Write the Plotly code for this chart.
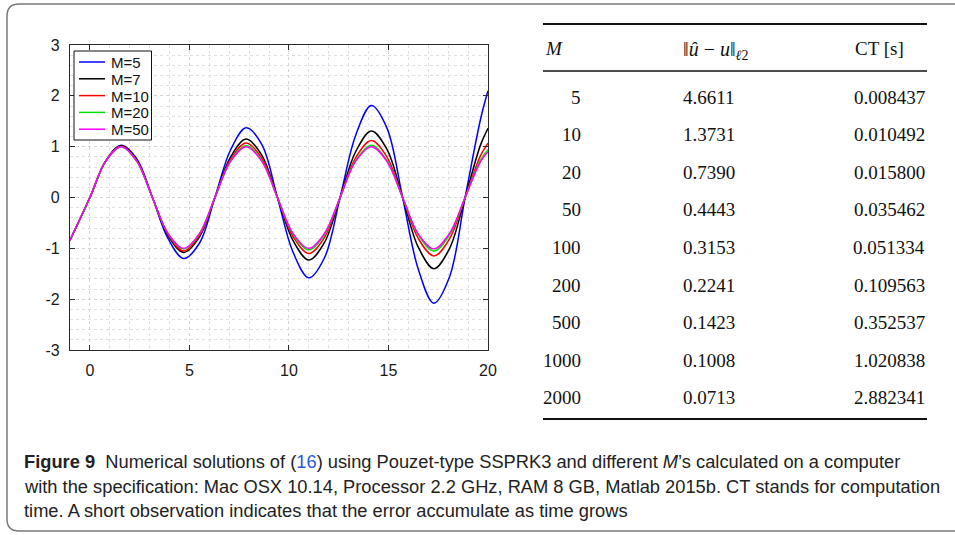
import plotly.graph_objects as go

# ---------------- data ----------------
t = [-1.0, 0.0, 0.79, 1.57, 2.36, 3.14, 3.93, 4.71, 5.50, 6.28, 7.07, 7.85, 8.64, 9.42,
     10.21, 11.00, 11.78, 12.57, 13.35, 14.14, 14.92, 15.71, 16.49, 17.28, 18.06, 18.85,
     19.63, 20.0]

u_M5 = [-0.84, 0.0, 0.72, 1.03, 0.76, 0.0, -0.81, -1.20, -0.90, 0.0, 0.94, 1.37, 1.04, 0.0,
        -1.08, -1.58, -1.19, 0.0, 1.22, 1.81, 1.37, 0.0, -1.40, -2.08, -1.57, 0.0, 1.55, 2.10]
u_M7 = [-0.84, 0.0, 0.71, 1.02, 0.73, 0.0, -0.75, -1.08, -0.78, 0.0, 0.80, 1.15, 0.83, 0.0,
        -0.85, -1.23, -0.89, 0.0, 0.90, 1.31, 0.95, 0.0, -0.97, -1.40, -1.01, 0.0, 1.04, 1.36]
u_M10 = [-0.84, 0.0, 0.71, 1.01, 0.72, 0.0, -0.73, -1.05, -0.75, 0.0, 0.75, 1.07, 0.77, 0.0,
         -0.77, -1.10, -0.79, 0.0, 0.78, 1.12, 0.80, 0.0, -0.80, -1.15, -0.82, 0.0, 0.83, 1.07]
u_M20 = [-0.84, 0.0, 0.71, 1.00, 0.71, 0.0, -0.71, -1.01, -0.72, 0.0, 0.72, 1.02, 0.72, 0.0,
         -0.72, -1.03, -0.73, 0.0, 0.73, 1.03, 0.73, 0.0, -0.73, -1.05, -0.74, 0.0, 0.74, 0.94]
u_M50 = [-0.84, 0.0, 0.71, 1.00, 0.71, 0.0, -0.71, -1.00, -0.71, 0.0, 0.71, 1.00, 0.71, 0.0,
         -0.71, -1.00, -0.71, 0.0, 0.71, 1.00, 0.71, 0.0, -0.71, -1.01, -0.71, 0.0, 0.71, 0.90]

series_names = ["M=5", "M=7", "M=10", "M=20", "M=50"]
series_values = [u_M5, u_M7, u_M10, u_M20, u_M50]
series_colors = ["#0000ff", "#000000", "#ff0000", "#00e000", "#ff00ff"]

x_tickvals = [0, 5, 10, 15, 20]
x_ticktext = ["0", "5", "10", "15", "20"]
y_tickvals = [-3, -2, -1, 0, 1, 2, 3]
y_ticktext = ["-3", "-2", "-1", "0", "1", "2", "3"]

# table
table_M = ["5", "10", "20", "50", "100", "200", "500", "1000", "2000"]
table_err = ["4.6611", "1.3731", "0.7390", "0.4443", "0.3153", "0.2241", "0.1423", "0.1008", "0.0713"]
table_ct = ["0.008437", "0.010492", "0.015800", "0.035462", "0.051334", "0.109563",
            "0.352537", "1.020838", "2.882341"]

caption_lines = [
    "<b>Figure 9</b>  Numerical solutions of (<span style='color:#2a5bd7'>16</span>) using Pouzet-type SSPRK3 and different <i>M</i>’s calculated on a computer",
    "with the specification: Mac OSX 10.14, Processor 2.2 GHz, RAM 8 GB, Matlab 2015b. CT stands for computation",
    "time. A short observation indicates that the error accumulate as time grows",
]

# ---------------- layout geometry (pixels) ----------------
W, H = 955, 535
L, R, T, B = 70, 488, 45, 350  # plot area


def px(x):
    return (x - L) / (R - L)


def py(y):
    return (B - y) / (B - T)


fig = go.Figure()
for name, vals, col in zip(series_names, series_values, series_colors):
    fig.add_trace(go.Scatter(x=t, y=vals, mode="lines", name=name, showlegend=False,
                             line=dict(color=col, width=1.5, shape="spline", smoothing=1.0)))

axis_common = dict(
    showline=True, linecolor="#2a2a2a", linewidth=1.2, mirror="ticks",
    ticks="inside", ticklen=5, tickcolor="#2a2a2a",
    showgrid=True, gridcolor="#d4d4d4", griddash="dot", gridwidth=1,
    zeroline=False,
    tickfont=dict(family="Liberation Sans, Arial, sans-serif", size=16, color="#1a1a1a"),
)

fig.update_xaxes(range=[-1, 20], tickvals=x_tickvals, ticktext=x_ticktext,
                 minor=dict(dtick=1, showgrid=True, gridcolor="#e0e0e0", griddash="dot", ticks=""),
                 ticklabelstandoff=6, **axis_common)
fig.update_yaxes(range=[-3, 3], tickvals=y_tickvals, ticktext=y_ticktext,
                 minor=dict(dtick=0.2, showgrid=True, gridcolor="#e0e0e0", griddash="dot", ticks=""),
                 ticklabelstandoff=6, **axis_common)

shapes = []
annotations = []
sans = "Liberation Sans, Arial, sans-serif"

# legend box (drawn manually to match the compact MATLAB legend)
shapes.append(dict(type="rect", xref="paper", yref="paper",
                   x0=px(74), x1=px(151.5), y0=py(140), y1=py(51),
                   fillcolor="white", line=dict(color="#111111", width=1)))
leg_y0, leg_dy = 62, 16.8
for i, (name, col) in enumerate(zip(series_names, series_colors)):
    yy = leg_y0 + i * leg_dy
    shapes.append(dict(type="line", xref="paper", yref="paper",
                       x0=px(79), x1=px(105), y0=py(yy), y1=py(yy),
                       line=dict(color=col, width=1.5)))
    annotations.append(dict(text=name, x=px(108.5), y=py(yy + 0.5), xanchor="left", yanchor="middle",
                            font=dict(family=sans, size=15, color="#111")))

# outer rounded frame
r = 12
x0, y0, y1 = 7, 4, 531
path = (f"M {px(W + 30)},{py(y0)} L {px(x0 + r)},{py(y0)} "
        f"Q {px(x0)},{py(y0)} {px(x0)},{py(y0 + r)} "
        f"L {px(x0)},{py(y1 - r)} Q {px(x0)},{py(y1)} {px(x0 + r)},{py(y1)} "
        f"L {px(W + 30)},{py(y1)}")
shapes.append(dict(type="path", xref="paper", yref="paper", path=path,
                   line=dict(color="#7a7a7a", width=1.5)))

# table rules
tx0, tx1 = 543, 927
for yy, w in [(24, 2), (71, 1.5), (419, 2)]:
    shapes.append(dict(type="line", xref="paper", yref="paper",
                       x0=px(tx0), x1=px(tx1), y0=py(yy), y1=py(yy),
                       line=dict(color="#111111", width=w)))

serif = "Liberation Serif, Times New Roman, serif"
tfs = 19
# headers
hy = 49
annotations.append(dict(text="<i>M</i>", x=px(543), y=py(hy), xanchor="left", yanchor="middle",
                        font=dict(family=serif, size=tfs, color="#111")))
annotations.append(dict(text="‖<i>û</i> − <i>u</i>‖<sub><i>ℓ</i>2</sub>", x=px(681), y=py(hy + 1),
                        xanchor="left", yanchor="middle",
                        font=dict(family=serif, size=20, color="#111")))
annotations.append(dict(text="CT [s]", x=px(853), y=py(hy), xanchor="left", yanchor="middle",
                        font=dict(family=serif, size=tfs, color="#111")))
row_y0, row_dy = 97, 37.6
for i, (m, e, c) in enumerate(zip(table_M, table_err, table_ct)):
    yy = row_y0 + i * row_dy
    annotations.append(dict(text=m, x=px(583), y=py(yy), xanchor="right", yanchor="middle",
                            font=dict(family=serif, size=tfs, color="#111")))
    annotations.append(dict(text=e, x=px(681), y=py(yy), xanchor="left", yanchor="middle",
                            font=dict(family=serif, size=tfs, color="#111")))
    annotations.append(dict(text=c, x=px(927), y=py(yy), xanchor="right", yanchor="middle",
                            font=dict(family=serif, size=tfs, color="#111")))

# caption
cap_y = [461, 486, 510]
for line, yy in zip(caption_lines, cap_y):
    annotations.append(dict(text=line, x=px(22), y=py(yy), xanchor="left", yanchor="middle",
                            align="left",
                            font=dict(family=sans, size=18.3, color="#222")))

for a in annotations:
    a.update(xref="paper", yref="paper", showarrow=False)

fig.update_layout(
    width=W, height=H,
    margin=dict(l=L, r=W - R, t=T, b=H - B, pad=0),
    paper_bgcolor="white", plot_bgcolor="white",
    showlegend=False,
    shapes=shapes, annotations=annotations,
)

fig.write_html("out.html", config={"displayModeBar": False},
               post_script="document.body.style.margin='0px';")
